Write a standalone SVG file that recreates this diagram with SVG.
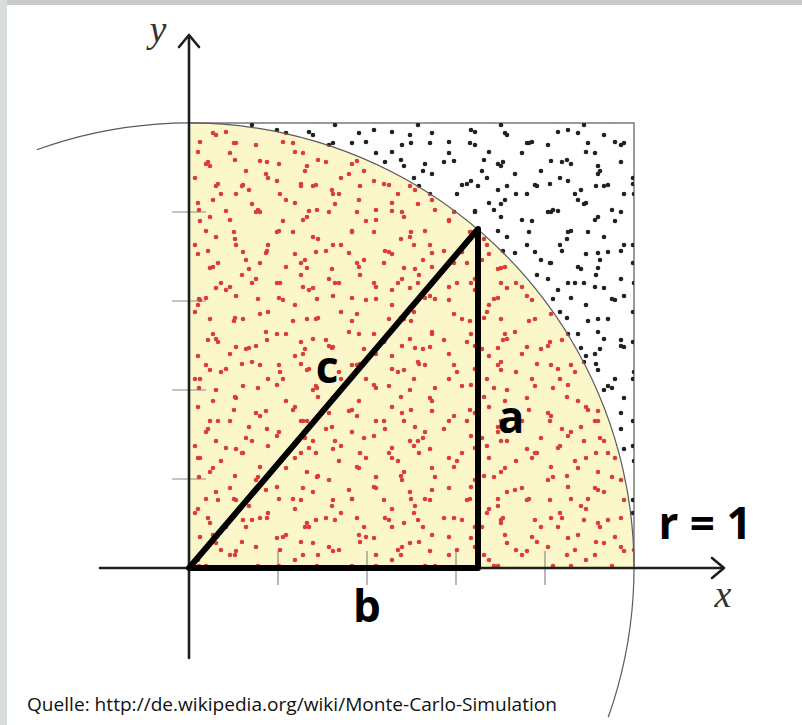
<svg xmlns="http://www.w3.org/2000/svg" xmlns:xlink="http://www.w3.org/1999/xlink" width="802" height="725" viewBox="0 0 802 725">
<style>
.tick{stroke:#8a8a8a;stroke-width:1.2;fill:none}
.axis{stroke:#1e1e1e;stroke-width:2.6;fill:none;stroke-linecap:round}
.head{stroke:#1e1e1e;stroke-width:2.6;fill:none;stroke-linecap:round;stroke-linejoin:round}
.lbl{font-family:"Open Sans","Liberation Sans",sans-serif;font-weight:700;font-size:44px;fill:#000;text-anchor:middle}
.math{font-family:"Liberation Serif","DejaVu Serif",serif;font-style:italic;font-size:38px;fill:#333;text-anchor:middle}
</style>
<defs>
<g id="d1"><circle cx="8" cy="12" r="2.3"/><circle cx="34" cy="4" r="2.3"/><circle cx="57" cy="23" r="2.3"/><circle cx="21" cy="44" r="2.3"/><circle cx="46" cy="37" r="2.3"/><circle cx="64" cy="59" r="2.3"/></g>
<g id="d2"><circle cx="5" cy="30" r="2.3"/><circle cx="27" cy="14" r="2.3"/><circle cx="48" cy="6" r="2.3"/><circle cx="40" cy="52" r="2.3"/><circle cx="14" cy="71" r="2.3"/><circle cx="52" cy="80" r="2.3"/></g>
<g id="d3"><circle cx="11" cy="22" r="2.3"/><circle cx="35" cy="40" r="2.3"/><circle cx="52" cy="9" r="2.3"/><circle cx="70" cy="31" r="2.3"/><circle cx="88" cy="14" r="2.3"/><circle cx="82" cy="45" r="2.3"/></g>
<g id="d4"><circle cx="6" cy="58" r="2.3"/><circle cx="23" cy="26" r="2.3"/><circle cx="41" cy="68" r="2.3"/><circle cx="58" cy="44" r="2.3"/><circle cx="75" cy="9" r="2.3"/><circle cx="49" cy="16" r="2.3"/><circle cx="72" cy="74" r="2.3"/></g>
<pattern id="r1" patternUnits="userSpaceOnUse" x="3" y="7" width="73" height="67"><use xlink:href="#d1" fill="#dc3d3a"/></pattern>
<pattern id="r2" patternUnits="userSpaceOnUse" x="17" y="2" width="59" height="89"><use xlink:href="#d2" fill="#dc3d3a"/></pattern>
<pattern id="r3" patternUnits="userSpaceOnUse" x="31" y="19" width="97" height="51"><use xlink:href="#d3" fill="#dc3d3a"/></pattern>
<pattern id="r4" patternUnits="userSpaceOnUse" x="11" y="37" width="83" height="79"><use xlink:href="#d4" fill="#dc3d3a"/></pattern>
<pattern id="k1" patternUnits="userSpaceOnUse" x="3" y="7" width="73" height="67"><use xlink:href="#d1" fill="#222222"/></pattern>
<pattern id="k2" patternUnits="userSpaceOnUse" x="17" y="2" width="59" height="89"><use xlink:href="#d2" fill="#222222"/></pattern>
<pattern id="k3" patternUnits="userSpaceOnUse" x="31" y="19" width="97" height="51"><use xlink:href="#d3" fill="#222222"/></pattern>
<pattern id="k4" patternUnits="userSpaceOnUse" x="11" y="37" width="83" height="79"><use xlink:href="#d4" fill="#222222"/></pattern>
<clipPath id="inside"><path d="M189,568 L634,568 A445,445 0 0 0 189,123 Z"/></clipPath>
<clipPath id="outside"><path d="M634,568 A445,445 0 0 0 189,123 H634 Z"/></clipPath>
</defs>

<rect x="0" y="0" width="802" height="725" fill="#ffffff"/>
<rect x="0" y="0" width="802" height="5" fill="#c8cdcb"/>
<rect x="0" y="0" width="7" height="725" fill="#d8dcda"/>

<g id="quarter-disk">
<path d="M189,568 L634,568 A445,445 0 0 0 189,123 Z" fill="#fcf7cb"/>
</g>

<g id="ticks">
<path class="tick" d="M172,479 H206 M172,390 H206 M172,301 H206 M172,212 H206 M278,551 V585 M367,551 V585 M456,551 V585 M545,551 V585"/>
</g>

<g id="square">
<rect x="189" y="123" width="445" height="445" fill="none" stroke="#7a7a7a" stroke-width="1.5"/>
</g>

<g id="red-points" clip-path="url(#inside)">
<rect x="189" y="123" width="445" height="445" fill="url(#r1)"/>
<rect x="189" y="123" width="445" height="445" fill="url(#r2)"/>
<rect x="189" y="123" width="445" height="445" fill="url(#r3)"/>
<rect x="189" y="123" width="445" height="445" fill="url(#r4)"/>
</g>
<g id="black-points" clip-path="url(#outside)">
<rect x="189" y="123" width="445" height="445" fill="url(#k1)"/>
<rect x="189" y="123" width="445" height="445" fill="url(#k2)"/>
<rect x="189" y="123" width="445" height="445" fill="url(#k3)"/>
<rect x="189" y="123" width="445" height="445" fill="url(#k4)"/>
</g>

<g id="circle-arc">
<path d="M36.8,149.8 A445,445 0 0 1 608.2,717.3" fill="none" stroke="#5a5a5a" stroke-width="1.2"/>
</g>

<g id="connectors">
<path class="axis" d="M100,568 H723"/>
<path class="head" d="M712,558 L724,568 L712,578"/>
<path class="axis" d="M189,658 V36"/>
<path class="head" d="M179,47 L189,35 L199,47"/>
</g>

<g id="triangle">
<path d="M189,568 L478,568 L478,229 Z" fill="none" stroke="#000" stroke-width="6" stroke-linejoin="round"/>
</g>

<g id="labels">
<text class="math" x="158" y="42">y</text>
<text class="math" x="723" y="607">x</text>
<text class="lbl" x="327" y="383">c</text>
<text class="lbl" x="511" y="433">a</text>
<text class="lbl" x="367" y="622">b</text>
<text class="lbl" x="705" y="539" textLength="93" lengthAdjust="spacingAndGlyphs">r = 1</text>
<text x="27" y="711" font-family="'Open Sans','Liberation Sans',sans-serif" font-size="19" fill="#111" textLength="530" lengthAdjust="spacingAndGlyphs">Quelle: http://de.wikipedia.org/wiki/Monte-Carlo-Simulation</text>
</g>
</svg>
